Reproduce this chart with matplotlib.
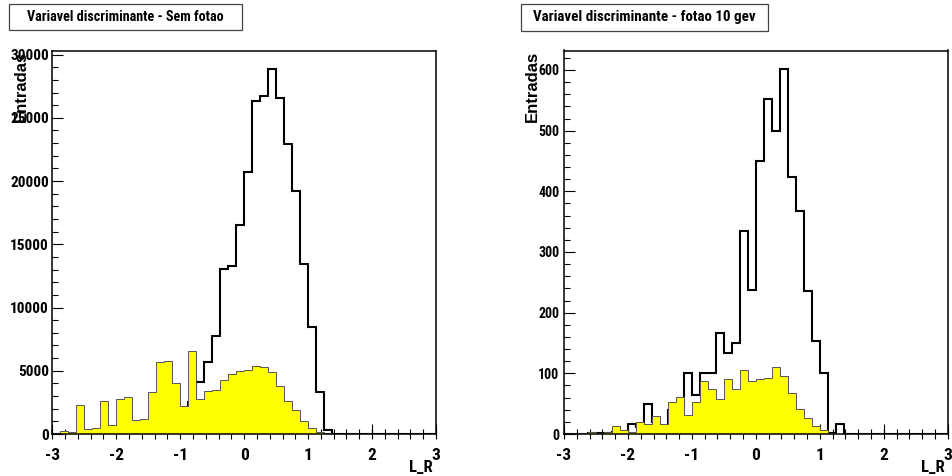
import numpy as np
import matplotlib
matplotlib.use("Agg")
import matplotlib.pyplot as plt
from matplotlib.ticker import MultipleLocator, FormatStrFormatter
from matplotlib.patches import Rectangle

# Binning of the discriminant variable L_R: 48 bins between -3 and 3
x_min, x_max, n_bins = -3.0, 3.0, 48

# Panel 1: "Sem fotao"
sem_fotao_linha = [0, 10, 20, 30, 40, 60, 80, 100, 150, 200, 300, 400,
                   600, 900, 1300, 1800, 1900, 2500, 4120, 5690, 7770, 13030,
                   13320, 16560, 20720, 26330, 26750, 28880, 26570, 22900,
                   19200, 13450, 8480, 3290, 300, 30,
                   0, 0, 0, 0, 0, 0, 0, 0, 0, 0, 0, 0]
sem_fotao_cheio = [105, 200, 160, 2330, 390, 470, 2570, 740, 2780, 2960,
                   1100, 1150, 3360, 5690, 5800, 4060, 2185, 6580, 2765, 3400,
                   3480, 4240, 4750, 4950, 5090, 5390, 5290, 4870, 3800, 2630,
                   1900, 1030, 480, 170, 60,
                   0, 0, 0, 0, 0, 0, 0, 0, 0, 0, 0, 0, 0]

# Panel 2: "fotao 10 gev"
fotao10_linha = [0, 0, 0, 1, 1, 2, 3, 4, 17, 12, 49, 20, 10, 40, 45,
                 100, 65, 100, 100, 166, 133, 150, 335, 237, 450, 552, 500,
                 602, 424, 368, 236, 154, 100, 1, 16,
                 0, 0, 0, 0, 0, 0, 0, 0, 0, 0, 0, 0, 0]
fotao10_cheio = [1, 1, 2, 4, 2, 4, 14, 6, 4, 19, 16, 30, 16, 52, 61, 31, 53,
                 88, 74, 58, 91, 74, 106, 87, 91, 92, 111, 95, 68, 41, 26, 14,
                 6, 2,
                 0, 0, 0, 0, 0, 0, 0, 0, 0, 0, 0, 0, 0, 0]

titulos = ["Variavel discriminante - Sem fotao",
           "Variavel discriminante - fotao 10 gev"]
rotulo_x = "L_R"
rotulo_y = "Entradas"
x_ticks = [-3, -2, -1, 0, 1, 2, 3]

FAMILIA = ["Roboto Condensed", "Liberation Sans Narrow", "Liberation Sans",
           "DejaVu Sans"]
plt.rcParams["font.family"] = FAMILIA
plt.rcParams["font.weight"] = "bold"
plt.rcParams["axes.unicode_minus"] = False

W, H = 953, 476
fig = plt.figure(figsize=(W / 100, H / 100), dpi=100)
fig.patch.set_facecolor("white")

edges = np.linspace(x_min, x_max, n_bins + 1)


def fig_rect(x0, y0, x1, y1):
    """Pixel box (top-left origin) -> figure fraction [l, b, w, h]."""
    return [x0 / W, 1 - y1 / H, (x1 - x0) / W, (y1 - y0) / H]


paineis = [
    dict(rect=fig_rect(52.3, 50.5, 436, 434), linha=sem_fotao_linha,
         cheio=sem_fotao_cheio, major=5000, minor=1000, title=titulos[0],
         box=(9, 4.5, 242, 29.5), title_w=197, ysize=11, ypad=2.5),
    dict(rect=fig_rect(564, 50.5, 947.7, 434), linha=fotao10_linha,
         cheio=fotao10_cheio, major=100, minor=20, title=titulos[1],
         box=(520.7, 4.5, 767.7, 30.5), title_w=224, ysize=10, ypad=3.5),
]

renderer = fig.canvas.get_renderer()

for p in paineis:
    ax = fig.add_axes(p["rect"])
    linha = np.asarray(p["linha"], dtype=float)
    cheio = np.asarray(p["cheio"], dtype=float)

    # outline histogram below, filled histogram drawn over it
    ax.stairs(linha, edges, baseline=0, color="black", linewidth=1.5, zorder=2)
    ax.stairs(cheio, edges, baseline=0, fill=True, facecolor="#ffff00",
              edgecolor="#555555", linewidth=0.7, zorder=3)

    ax.set_xlim(x_min, x_max)
    ax.set_ylim(0, 1.05 * max(linha.max(), cheio.max()))

    for side in ("left", "right", "top", "bottom"):
        ax.spines[side].set_linewidth(1.1)
        ax.spines[side].set_zorder(5)

    ax.set_xticks(x_ticks)
    ax.xaxis.set_minor_locator(MultipleLocator(0.2))
    ax.xaxis.remove_overlapping_locs = False
    ax.yaxis.set_major_locator(MultipleLocator(p["major"]))
    ax.yaxis.set_minor_locator(MultipleLocator(p["minor"]))
    ax.yaxis.set_major_formatter(FormatStrFormatter("%d"))

    ax.tick_params(axis="y", which="major", direction="in", length=8,
                   width=0.8, pad=p["ypad"], labelsize=p["ysize"],
                   left=True, right=False)
    ax.tick_params(axis="y", which="minor", direction="in", length=4.3,
                   width=0.8, left=True, right=False)
    ax.tick_params(axis="x", which="major", direction="in", length=7.5,
                   width=0.8, pad=10, labelsize=12.5, bottom=True, top=False)
    ax.tick_params(axis="x", which="minor", direction="inout", length=7,
                   width=0.8, bottom=True, top=False)
    for lab in ax.get_xticklabels() + ax.get_yticklabels():
        lab.set_fontweight("bold")

    # axis titles: x at the right end, y at the top
    ax.annotate(rotulo_x, xy=(1, 0), xycoords="axes fraction",
                xytext=(-2, -27), textcoords="offset points",
                ha="right", va="baseline", fontsize=12, fontweight="bold")
    ax.annotate(rotulo_y, xy=(0, 1), xycoords="axes fraction",
                xytext=(-22.5, 0), textcoords="offset points",
                rotation=90, ha="center", va="top", fontsize=12,
                fontweight="bold", family=["Liberation Sans", "DejaVu Sans"])

    # title box, text sized to fill its width
    bx0, by0, bx1, by1 = p["box"]
    l, b, w, h = fig_rect(bx0, by0, bx1, by1)
    fig.patches.append(Rectangle((l, b), w, h, transform=fig.transFigure,
                                 facecolor="white", edgecolor="#444444",
                                 linewidth=0.9, zorder=1))
    t = fig.text(l + w / 2, b + h / 2, p["title"], ha="center", va="center",
                 fontsize=12, fontweight="bold", zorder=2)
    tw = t.get_window_extent(renderer).width
    t.set_fontsize(min(13, 12 * p["title_w"] / tw))

fig.savefig("out.png", dpi=100)
